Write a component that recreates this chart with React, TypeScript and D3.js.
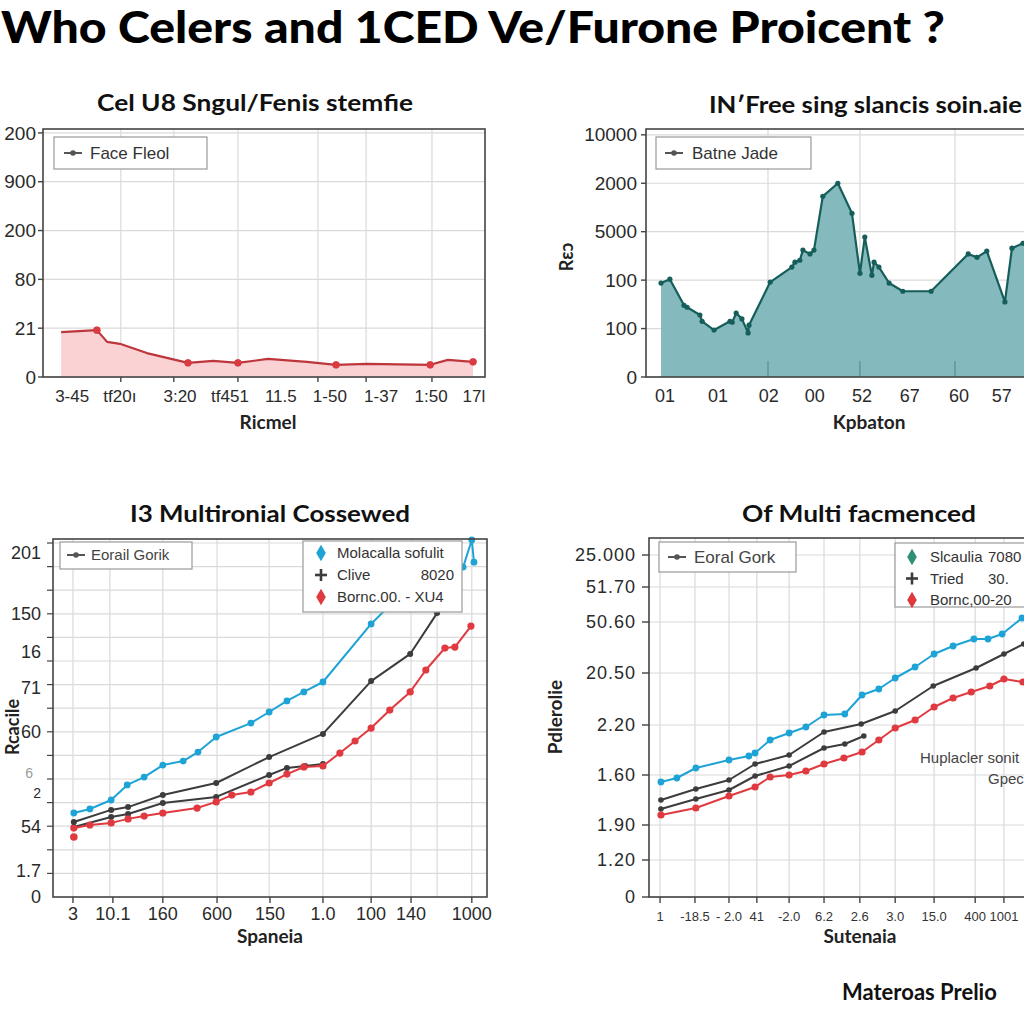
import React from "react";
import * as d3 from "d3";

const W = 1024;
const H = 1024;

// ---------------- Data ----------------
const mainTitle = "Who Celers and 1CED Ve/Furone Proicent ?";
const footerText = "Materoas Prelio";

// Panel 1 (top-left)
const p1Title = "Cel U8 Sngul/Fenis stemfie";
const p1XLabel = "Ricmel";
const p1Legend = "Face Fleol";
const p1YTicks = [0, 1, 2, 3, 4, 5];
const p1YTickLabels = ["0", "21", "80", "200", "900", "200"];
const p1XTicks = [6.6, 17.4, 31.0, 42.3, 53.8, 64.9, 76.5, 87.8, 97.5];
const p1XTickLabels = ["3-45", "tf20ı", "3:20", "tf451", "11.5", "1-50", "1-37", "1:50", "17l"];
const p1XGrid = [17.6, 29.6, 44.1, 62.2, 73.1, 88.0];
const p1X = [4.1, 12.2, 14.5, 17.4, 23.5, 32.8, 38.5, 44.1, 50.9, 59.7, 66.3, 73.3, 87.6, 91.6, 97.3];
const p1Y = [0.92, 0.96, 0.72, 0.68, 0.49, 0.29, 0.33, 0.29, 0.37, 0.31, 0.25, 0.27, 0.25, 0.35, 0.31];
const p1MarkerIdx = [1, 5, 7, 10, 12, 14];

// Panel 2 (top-right)
const p2Title = "IN′Free sing slancis soin.aie";
const p2XLabel = "Kpbaton";
const p2YLabel = "Rεɔ";
const p2Legend = "Batne Jade";
const p2YTicks = [0, 1, 2, 3, 4, 5];
const p2YTickLabels = ["0", "100", "100", "5000", "2000", "10000"];
const p2XTicks = [4.3, 16.3, 27.8, 38.2, 48.9, 59.7, 70.8, 80.5];
const p2XTickLabels = ["01", "01", "02", "00", "52", "67", "60", "57"];
const p2XGrid = [27.6, 48.4, 69.9, 91.4];
const p2X = [3.4, 5.4, 8.6, 9.3, 12.2, 12.7, 15.4, 19.0, 19.5, 20.4, 21.7, 23.1, 23.3, 28.1, 33.0, 33.7, 34.8, 35.5, 37.1, 38.0, 40.0, 43.4, 46.6, 48.4, 49.5, 51.1, 51.6, 52.7, 55.0, 58.1, 64.5, 72.9, 74.9, 77.1, 81.2, 82.8, 85.3, 90.3, 98.2];
const p2Y = [1.94, 2.02, 1.48, 1.44, 1.28, 1.15, 0.97, 1.15, 1.13, 1.32, 1.20, 0.91, 1.07, 1.96, 2.27, 2.37, 2.41, 2.62, 2.54, 2.62, 3.73, 4.0, 3.38, 2.14, 2.89, 2.10, 2.37, 2.27, 1.94, 1.77, 1.77, 2.54, 2.47, 2.60, 1.55, 2.66, 2.76, 2.93, 2.62];

// Panel 3 (bottom-left)
const p3Title = "I3 Multironial Cossewed";
const p3XLabel = "Spaneia";
const p3YLabel = "Rcacile";
const p3LegendLeft = "Eorail Gorik";
const p3LegendNames = ["Molacalla sofulit", "Clive", "Bornc.00. - XU4"];
const p3LegendValues = ["", "8020", ""];
const p3YTicks = [14.6, 12.0, 10.4, 8.86, 7.0, 5.25, 4.4, 3.0, 1.1, 0];
const p3YTickLabels = ["201", "150", "16", "71", "60", "6", "2", "54", "1.7", "0"];
const p3YGrid = [1, 2, 3, 4, 5, 6, 7, 8, 9, 10, 11, 12, 13, 14, 15];
const p3XTicks = [4.6, 13.8, 25.3, 37.8, 50.0, 62.2, 73.3, 82.5, 96.5];
const p3XTickLabels = ["3", "10.1", "160", "600", "150", "1.0", "100", "140", "1000"];
const p3XGrid = [4.6, 13.1, 25.3, 37.8, 49.8, 62.2, 73.3, 82.5, 88.5, 96.5];
const p3CyanX = [4.8, 8.5, 13.4, 17.1, 21.0, 25.3, 30.0, 33.4, 37.6, 45.6, 49.8, 53.9, 57.8, 62.2, 73.3, 77.0, 86.9, 94.5, 96.5, 97.0];
const p3CyanY = [3.56, 3.73, 4.11, 4.75, 5.08, 5.59, 5.76, 6.14, 6.78, 7.37, 7.84, 8.31, 8.69, 9.11, 11.57, 12.25, 13.64, 13.98, 15.13, 14.19];
const p3DarkAX = [4.8, 13.4, 17.3, 25.3, 37.6, 49.8, 62.2, 73.3, 82.3, 88.5, 93.3];
const p3DarkAY = [3.18, 3.69, 3.81, 4.32, 4.83, 5.93, 6.91, 9.15, 10.30, 12.03, 13.64];
const p3DarkBX = [4.8, 13.4, 17.3, 25.3, 37.6, 49.8, 53.9, 58.1, 62.2];
const p3DarkBY = [2.97, 3.39, 3.52, 3.98, 4.24, 5.17, 5.47, 5.55, 5.64];
const p3RedX = [4.8, 8.5, 13.4, 17.3, 21.0, 25.3, 33.2, 37.6, 41.2, 45.6, 49.8, 53.9, 57.8, 62.2, 66.1, 69.6, 73.3, 77.6, 82.3, 85.9, 90.3, 92.6, 96.3];
const p3RedY = [2.92, 3.05, 3.14, 3.31, 3.43, 3.56, 3.77, 4.03, 4.32, 4.45, 4.83, 5.21, 5.51, 5.55, 6.10, 6.61, 7.16, 7.92, 8.69, 9.62, 10.55, 10.59, 11.48];
const p3RedExtraX = [4.8];
const p3RedExtraY = [2.54];

// Panel 4 (bottom-right)
const p4Title = "Of Multi facmenced";
const p4XLabel = "Sutenaia";
const p4YLabel = "Pdlerolie";
const p4LegendLeft = "Eoral Gork";
const p4LegendNames = ["Slcaulia", "Tried", "Bornc,00-20"];
const p4LegendValues = ["7080", "30.", ""];
const p4Note1 = "Huplacler sonit";
const p4Note2 = "Gpec";
const p4YTicks = [6.84, 6.2, 5.5, 4.48, 3.44, 2.44, 1.44, 0.74, 0];
const p4YTickLabels = ["25.000", "51.70", "50.60", "20.50", "2.20", "1.60", "1.90", "1.20", "0"];
const p4XTicks = [2.5, 10.4, 18.1, 24.4, 31.7, 39.6, 47.7, 55.7, 64.5, 73.8, 80.3];
const p4XTickLabels = ["1", "-18.5", "- 2.0", "41", "-2.0", "6.2", "2.6", "3.0", "15.0", "400", "1001"];
const p4CyanX = [2.7, 6.3, 10.6, 18.1, 22.6, 24.0, 27.4, 31.7, 35.5, 39.6, 44.3, 48.2, 52.0, 55.7, 60.2, 64.5, 68.8, 73.5, 76.7, 79.9, 84.4, 89.6, 97.5];
const p4CyanY = [2.30, 2.38, 2.58, 2.74, 2.82, 2.88, 3.14, 3.28, 3.40, 3.64, 3.66, 4.04, 4.16, 4.38, 4.60, 4.86, 5.02, 5.16, 5.16, 5.26, 5.58, 5.84, 6.14];
const p4DarkAX = [2.7, 10.6, 18.1, 24.0, 31.7, 39.6, 48.0, 55.7, 64.3, 74.0, 80.3, 84.8, 97.5];
const p4DarkAY = [1.94, 2.16, 2.34, 2.66, 2.84, 3.30, 3.46, 3.72, 4.22, 4.58, 4.86, 5.06, 5.54];
const p4DarkBX = [2.7, 10.6, 18.1, 24.0, 31.7, 39.6, 44.3, 48.6];
const p4DarkBY = [1.76, 1.96, 2.14, 2.42, 2.62, 2.98, 3.06, 3.22];
const p4RedX = [2.7, 10.6, 18.1, 24.0, 27.4, 31.7, 35.5, 39.6, 44.1, 48.2, 52.0, 55.7, 60.2, 64.5, 68.8, 72.9, 77.1, 80.3, 84.6, 93.0];
const p4RedY = [1.64, 1.78, 2.02, 2.20, 2.40, 2.44, 2.52, 2.66, 2.78, 2.90, 3.14, 3.38, 3.54, 3.80, 3.98, 4.10, 4.22, 4.36, 4.30, 4.50];

// ---------------- Styles ----------------
const TICKFONT = "'Liberation Sans', Arial, sans-serif";
const TITLEFONT = "Lato, 'Open Sans', sans-serif";
const GRID = "#dadada";
const AXIS = "#444";
const TXT = "#2a2a2a";
const CYAN = "#1ea3d6";
const DARK = "#3c3c3c";
const RED = "#e03a40";

const zip = (xs: number[], ys: number[]) => xs.map((v, i) => [v, ys[i]] as [number, number]);

function LineDotSymbol({ x, y, color = "#555" }: { x: number; y: number; color?: string }) {
  return (
    <g>
      <line x1={x} x2={x + 18} y1={y} y2={y} stroke={color} strokeWidth={2} />
      <circle cx={x + 9} cy={y} r={2.8} fill={color} />
    </g>
  );
}

function Diamond({ x, y, color }: { x: number; y: number; color: string }) {
  const p = d3.symbol().type(d3.symbolDiamond).size(80)();
  return <path d={p || ""} transform={`translate(${x},${y})`} fill={color} />;
}

function Plus({ x, y, color }: { x: number; y: number; color: string }) {
  return (
    <g stroke={color} strokeWidth={2.6}>
      <line x1={x - 6} x2={x + 6} y1={y} y2={y} />
      <line x1={x} x2={x} y1={y - 6} y2={y + 6} />
    </g>
  );
}

function Series({ xs, ys, x, y, color, r = 3.2, width = 2, markerIdx }: any) {
  const pts = zip(xs, ys);
  const line = d3.line().x((d) => x(d[0])).y((d) => y(d[1]));
  const idx: number[] = markerIdx ?? pts.map((_, i) => i);
  return (
    <g>
      <path d={line(pts) || ""} fill="none" stroke={color} strokeWidth={width} strokeLinejoin="round" />
      {idx.map((i) => (
        <circle key={i} cx={x(pts[i][0])} cy={y(pts[i][1])} r={r} fill={color} />
      ))}
    </g>
  );
}

// ---------------- Panels ----------------
function Panel1() {
  const x = d3.scaleLinear().domain([0, 100]).range([43, 485]);
  const y = d3.scaleLinear().domain([0, 5.08]).range([377, 129]);
  const [x0, x1] = x.range();
  const [y0, y1] = y.range();
  const pts = zip(p1X, p1Y);
  const area = d3.area().x((d) => x(d[0])).y0(y(0)).y1((d) => y(d[1]));
  return (
    <g>
      <text x={255} y={111} textAnchor="middle" fontFamily={TITLEFONT} fontWeight={700} fontSize={22} textLength={316} lengthAdjust="spacingAndGlyphs" fill="#111">{p1Title}</text>
      {p1YTicks.map((t, i) => (
        <line key={"hg" + i} x1={x0} x2={x1} y1={y(t)} y2={y(t)} stroke={GRID} strokeWidth={1.2} />
      ))}
      {p1XGrid.map((g, i) => (
        <line key={"vg" + i} x1={x(g)} x2={x(g)} y1={y0} y2={y1} stroke={GRID} strokeWidth={1.2} />
      ))}
      <path d={area(pts) || ""} fill="#fad2d4" />
      <Series xs={p1X} ys={p1Y} x={x} y={y} color="#bd363b" r={3.6} width={2.2} markerIdx={p1MarkerIdx} />
      {p1MarkerIdx.map((i) => (
        <circle key={"m" + i} cx={x(p1X[i])} cy={y(p1Y[i])} r={3.4} fill="#dc3a40" />
      ))}
      <rect x={x0} y={y1} width={x1 - x0} height={y0 - y1} fill="none" stroke={AXIS} strokeWidth={1.6} />
      {p1YTicks.map((t, i) => (
        <g key={"yt" + i}>
          <line x1={x0 - 5} x2={x0} y1={y(t)} y2={y(t)} stroke={AXIS} strokeWidth={1.4} />
          <text x={x0 - 7} y={y(t)} dy="0.35em" textAnchor="end" fontFamily={TICKFONT} fontSize={19} fill={TXT}>{p1YTickLabels[i]}</text>
        </g>
      ))}
      {p1XGrid.map((g, i) => (
        <line key={"xt" + i} x1={x(g)} x2={x(g)} y1={y0} y2={y0 + 5} stroke={AXIS} strokeWidth={1.4} />
      ))}
      {p1XTicks.map((t, i) => (
        <text key={"xl" + i} x={x(t)} y={402} textAnchor="middle" fontFamily={TICKFONT} fontSize={17} fill={TXT}>{p1XTickLabels[i]}</text>
      ))}
      <text x={268} y={429} textAnchor="middle" fontFamily={TITLEFONT} fontWeight={700} fontSize={19} fill="#222">{p1XLabel}</text>
      <rect x={54} y={137} width={153} height={32} fill="#fff" stroke="#999" strokeWidth={1.2} />
      <LineDotSymbol x={64} y={153} color="#555" />
      <text x={90} y={153} dy="0.35em" fontFamily={TICKFONT} fontSize={17} fill="#333">{p1Legend}</text>
    </g>
  );
}

function Panel2() {
  const x = d3.scaleLinear().domain([0, 100]).range([646, 1088]);
  const y = d3.scaleLinear().domain([0, 5.12]).range([377, 129]);
  const [x0, x1] = x.range();
  const [y0, y1] = y.range();
  const pts = zip(p2X, p2Y);
  const area = d3.area().x((d) => x(d[0])).y0(y(0)).y1((d) => y(d[1]));
  return (
    <g>
      <text x={709} y={113} fontFamily={TITLEFONT} fontWeight={700} fontSize={22} textLength={313} lengthAdjust="spacingAndGlyphs" fill="#111">{p2Title}</text>
      {p2YTicks.map((t, i) => (
        <line key={"hg" + i} x1={x0} x2={x1} y1={y(t)} y2={y(t)} stroke={GRID} strokeWidth={1.2} />
      ))}
      {p2XGrid.map((g, i) => (
        <line key={"vg" + i} x1={x(g)} x2={x(g)} y1={y0} y2={y1} stroke={GRID} strokeWidth={1.2} />
      ))}
      <path d={area(pts) || ""} fill="#84b9be" />
      {p2XGrid.map((g, i) => (
        <line key={"in" + i} x1={x(g)} x2={x(g)} y1={y0} y2={y0 - 16} stroke="#5c9499" strokeWidth={1.4} />
      ))}
      <Series xs={p2X} ys={p2Y} x={x} y={y} color="#165e5a" r={2.6} width={2.2} />
      <rect x={x0} y={y1} width={x1 - x0} height={y0 - y1} fill="none" stroke={AXIS} strokeWidth={1.6} />
      {p2YTicks.map((t, i) => (
        <g key={"yt" + i}>
          <line x1={x0 - 5} x2={x0} y1={y(t)} y2={y(t)} stroke={AXIS} strokeWidth={1.4} />
          <text x={x0 - 9} y={y(t)} dy="0.35em" textAnchor="end" fontFamily={TICKFONT} fontSize={19} fill={TXT}>{p2YTickLabels[i]}</text>
        </g>
      ))}
      {p2XTicks.map((t, i) => (
        <text key={"xl" + i} x={x(t)} y={402} textAnchor="middle" fontFamily={TICKFONT} fontSize={18} fill={TXT}>{p2XTickLabels[i]}</text>
      ))}
      <text x={869} y={429} textAnchor="middle" fontFamily={TITLEFONT} fontWeight={700} fontSize={19} fill="#222">{p2XLabel}</text>
      <text transform="translate(573,257) rotate(-90)" textAnchor="middle" fontFamily={TITLEFONT} fontWeight={700} fontSize={18} fill="#222">{p2YLabel}</text>
      <rect x={656} y={137} width={155} height={32} fill="#fff" stroke="#999" strokeWidth={1.2} />
      <LineDotSymbol x={665} y={153} color="#555" />
      <text x={692} y={153} dy="0.35em" fontFamily={TICKFONT} fontSize={17} fill="#333">{p2Legend}</text>
    </g>
  );
}

function Panel3() {
  const x = d3.scaleLinear().domain([0, 100]).range([53, 487]);
  const y = d3.scaleLinear().domain([0, 15.17]).range([897, 539]);
  const [x0, x1] = x.range();
  const [y0, y1] = y.range();
  const legendColors = [CYAN, DARK, RED];
  return (
    <g>
      <text x={270} y={522} textAnchor="middle" fontFamily={TITLEFONT} fontWeight={700} fontSize={22} textLength={280} lengthAdjust="spacingAndGlyphs" fill="#111">{p3Title}</text>
      {p3YGrid.map((t, i) => (
        <line key={"hg" + i} x1={x0} x2={x1} y1={y(t)} y2={y(t)} stroke={GRID} strokeWidth={1.2} />
      ))}
      {p3XGrid.map((g, i) => (
        <line key={"vg" + i} x1={x(g)} x2={x(g)} y1={y0} y2={y1} stroke={GRID} strokeWidth={1.2} />
      ))}
      <Series xs={p3DarkBX} ys={p3DarkBY} x={x} y={y} color={DARK} r={3} />
      <Series xs={p3RedX} ys={p3RedY} x={x} y={y} color={RED} r={3.6} />
      {p3RedExtraX.map((v, i) => (
        <circle key={"re" + i} cx={x(v)} cy={y(p3RedExtraY[i])} r={3.8} fill={RED} />
      ))}
      <Series xs={p3DarkAX} ys={p3DarkAY} x={x} y={y} color={DARK} r={3} />
      <Series xs={p3CyanX} ys={p3CyanY} x={x} y={y} color={CYAN} r={3.4} />
      <rect x={x0} y={y1} width={x1 - x0} height={y0 - y1} fill="none" stroke={AXIS} strokeWidth={1.6} />
      {p3YGrid.map((t, i) => (
        <line key={"mt" + i} x1={x0 - 6} x2={x0} y1={y(t)} y2={y(t)} stroke={AXIS} strokeWidth={1.2} />
      ))}
      {p3YTicks.map((t, i) => (
        <text key={"yl" + i} x={p3YTickLabels[i] === "6" ? x0 - 20 : x0 - 12} y={y(t)} dy="0.35em" textAnchor="end" fontFamily={TICKFONT} fontSize={p3YTickLabels[i] === "6" || p3YTickLabels[i] === "2" ? 14 : 18} fill={p3YTickLabels[i] === "6" ? "#999" : TXT}>{p3YTickLabels[i]}</text>
      ))}
      {p3XTicks.map((t, i) => (
        <g key={"xl" + i}>
          <line x1={x(t)} x2={x(t)} y1={y0} y2={y0 + 6} stroke={AXIS} strokeWidth={1.4} />
          <text x={x(t)} y={920} textAnchor="middle" fontFamily={TICKFONT} fontSize={18} fill={TXT}>{p3XTickLabels[i]}</text>
        </g>
      ))}
      <text x={270} y={943} textAnchor="middle" fontFamily={TITLEFONT} fontWeight={700} fontSize={19} fill="#222">{p3XLabel}</text>
      <text transform="translate(19,727) rotate(-90)" textAnchor="middle" fontFamily={TITLEFONT} fontWeight={700} fontSize={18} fill="#222">{p3YLabel}</text>
      <rect x={60} y={542} width={132} height={27} fill="#fff" stroke="#999" strokeWidth={1.2} />
      <LineDotSymbol x={67} y={555} color="#555" />
      <text x={91} y={555} dy="0.35em" fontFamily={TICKFONT} fontSize={15} fill="#444">{p3LegendLeft}</text>
      <rect x={303} y={541} width={159} height={71} fill="#fff" stroke="#999" strokeWidth={1.2} />
      {p3LegendNames.map((n, i) => {
        const cy = 553 + i * 22;
        return (
          <g key={"lg" + i}>
            {i === 1 ? <Plus x={321} y={cy} color={DARK} /> : <Diamond x={321} y={cy} color={legendColors[i]} />}
            <text x={337} y={cy} dy="0.35em" fontFamily={TICKFONT} fontSize={15} fill="#333">{n}</text>
            <text x={454} y={cy} dy="0.35em" textAnchor="end" fontFamily={TICKFONT} fontSize={15} fill="#333">{p3LegendValues[i]}</text>
          </g>
        );
      })}
    </g>
  );
}

function Panel4() {
  const x = d3.scaleLinear().domain([0, 100]).range([649, 1091]);
  const y = d3.scaleLinear().domain([0, 7.18]).range([897, 538]);
  const [x0, x1] = x.range();
  const [y0, y1] = y.range();
  const legendColors = ["#2e8f74", DARK, RED];
  return (
    <g>
      <text x={859} y={522} textAnchor="middle" fontFamily={TITLEFONT} fontWeight={700} fontSize={22} textLength={234} lengthAdjust="spacingAndGlyphs" fill="#111">{p4Title}</text>
      {p4YTicks.map((t, i) => (
        <line key={"hg" + i} x1={x0} x2={x1} y1={y(t)} y2={y(t)} stroke={GRID} strokeWidth={1.2} />
      ))}
      {p4XTicks.map((g, i) => (
        <line key={"vg" + i} x1={x(g)} x2={x(g)} y1={y0} y2={y1} stroke={GRID} strokeWidth={1.2} />
      ))}
      <Series xs={p4DarkBX} ys={p4DarkBY} x={x} y={y} color={DARK} r={2.8} />
      <Series xs={p4RedX} ys={p4RedY} x={x} y={y} color={RED} r={3.6} />
      <Series xs={p4DarkAX} ys={p4DarkAY} x={x} y={y} color={DARK} r={2.8} />
      <Series xs={p4CyanX} ys={p4CyanY} x={x} y={y} color={CYAN} r={3.4} />
      <rect x={x0} y={y1} width={x1 - x0} height={y0 - y1} fill="none" stroke={AXIS} strokeWidth={1.6} />
      {p4YTicks.map((t, i) => (
        <g key={"yt" + i}>
          <line x1={x0 - 7} x2={x0} y1={y(t)} y2={y(t)} stroke={AXIS} strokeWidth={1.4} />
          <text x={x0 - 13} y={y(t)} dy="0.35em" textAnchor="end" fontFamily={TICKFONT} fontSize={18} letterSpacing={1} fill={TXT}>{p4YTickLabels[i]}</text>
        </g>
      ))}
      {p4XTicks.map((t, i) => (
        <g key={"xl" + i}>
          <line x1={x(t)} x2={x(t)} y1={y0} y2={y0 + 6} stroke={AXIS} strokeWidth={1.4} />
          <text x={x(t)} y={921} textAnchor="middle" fontFamily={TICKFONT} fontSize={13} fill="#333">{p4XTickLabels[i]}</text>
        </g>
      ))}
      <text x={860} y={943} textAnchor="middle" fontFamily={TITLEFONT} fontWeight={700} fontSize={19} fill="#222">{p4XLabel}</text>
      <text transform="translate(562,717) rotate(-90)" textAnchor="middle" fontFamily={TITLEFONT} fontWeight={700} fontSize={19} fill="#222">{p4YLabel}</text>
      <text x={920} y={763} fontFamily={TICKFONT} fontSize={15} fill="#444">{p4Note1}</text>
      <text x={988} y={784} fontFamily={TICKFONT} fontSize={15} fill="#444">{p4Note2}</text>
      <rect x={659} y={542} width={137} height={30} fill="#fff" stroke="#999" strokeWidth={1.2} />
      <LineDotSymbol x={668} y={557} color="#555" />
      <text x={694} y={557} dy="0.35em" fontFamily={TICKFONT} fontSize={17} fill="#444">{p4LegendLeft}</text>
      <rect x={895} y={543} width={160} height={64} fill="#fff" stroke="#999" strokeWidth={1.2} />
      {p4LegendNames.map((n, i) => {
        const cy = 557 + i * 21.5;
        return (
          <g key={"lg" + i}>
            {i === 1 ? <Plus x={912} y={cy} color={DARK} /> : <Diamond x={912} y={cy} color={legendColors[i]} />}
            <text x={930} y={cy} dy="0.35em" fontFamily={TICKFONT} fontSize={15} fill="#333">{n}</text>
            <text x={988} y={cy} dy="0.35em" fontFamily={TICKFONT} fontSize={15} fill="#333">{p4LegendValues[i]}</text>
          </g>
        );
      })}
    </g>
  );
}

export default function App() {
  return (
    <svg width={W} height={H} viewBox={`0 0 ${W} ${H}`} style={{ position: "absolute", left: 0, top: 0, background: "#fff" }}>
      <rect x={0} y={0} width={W} height={H} fill="#fff" />
      <text x={1} y={43} fontFamily={TITLEFONT} fontWeight={900} fontSize={44} textLength={944} lengthAdjust="spacingAndGlyphs" fill="#000">{mainTitle}</text>
      <Panel1 />
      <Panel2 />
      <Panel3 />
      <Panel4 />
      <text x={842} y={1000} fontFamily={TITLEFONT} fontWeight={700} fontSize={22} fill="#111">{footerText}</text>
    </svg>
  );
}
